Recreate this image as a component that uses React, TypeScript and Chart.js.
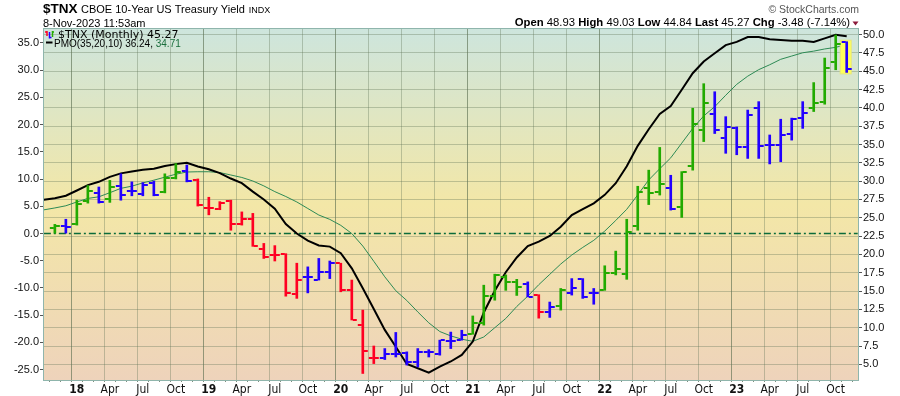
import React, { useEffect, useRef } from "react";
import { Chart, registerables } from "chart.js";

Chart.register(...registerables);

// ---------- DATA ----------
const months = [
  "2017-10", "2017-11", "2017-12",
  "2018-01", "2018-02", "2018-03", "2018-04", "2018-05", "2018-06", "2018-07", "2018-08", "2018-09", "2018-10", "2018-11", "2018-12",
  "2019-01", "2019-02", "2019-03", "2019-04", "2019-05", "2019-06", "2019-07", "2019-08", "2019-09", "2019-10", "2019-11", "2019-12",
  "2020-01", "2020-02", "2020-03", "2020-04", "2020-05", "2020-06", "2020-07", "2020-08", "2020-09", "2020-10", "2020-11", "2020-12",
  "2021-01", "2021-02", "2021-03", "2021-04", "2021-05", "2021-06", "2021-07", "2021-08", "2021-09", "2021-10", "2021-11", "2021-12",
  "2022-01", "2022-02", "2022-03", "2022-04", "2022-05", "2022-06", "2022-07", "2022-08", "2022-09", "2022-10", "2022-11", "2022-12",
  "2023-01", "2023-02", "2023-03", "2023-04", "2023-05", "2023-06", "2023-07", "2023-08", "2023-09", "2023-10", "2023-11",
];

const opens: (number | null)[] = [
  null, 23.6, 23.9,
  24.2, 27.3, 28.4, 27.5, 29.3, 28.6, 28.2, 29.7, 28.5, 30.4, 31.4, 30.2,
  26.3, 26.2, 27.3, 24.2, 24.8, 20.8, 19.9, 20.0, 14.6, 16.9, 16.5, 17.6,
  18.8, 15.2, 10.4, 5.9, 5.9, 6.4, 6.5, 5.3, 6.7, 6.35, 8.15, 8.3,
  9.2, 10.65, 14.3, 16.9, 16.25, 16.0, 14.4, 12.2, 13.0, 14.8, 16.6, 14.7,
  15.2, 17.4, 17.3, 23.9, 29.0, 28.55, 29.1, 26.5, 32.1, 37.0, 39.2, 35.9,
  37.2, 34.7, 39.95, 34.9, 34.9, 36.4, 38.6, 39.95, 40.85, 46.3, 48.93,
];
const highs: (number | null)[] = [
  null, 24.1, 24.8,
  27.4, 29.4, 29.2, 30.1, 31.0, 29.9, 29.8, 30.0, 31.0, 32.4, 32.2, 30.3,
  27.8, 27.2, 27.4, 25.8, 25.6, 21.5, 21.2, 20.1, 18.8, 18.3, 19.45, 19.1,
  18.8, 16.5, 12.4, 7.5, 7.15, 9.35, 6.7, 7.15, 7.0, 8.3, 9.4, 9.65,
  11.6, 15.8, 17.3, 17.2, 16.6, 16.25, 14.5, 13.5, 15.35, 16.7, 16.7, 15.35,
  18.45, 20.45, 24.8, 29.3, 31.5, 34.6, 30.8, 31.3, 39.95, 43.3, 42.2, 38.8,
  37.4, 39.7, 40.85, 36.3, 38.45, 38.6, 40.85, 43.45, 46.8, 49.95, 49.03,
];
const lows: (number | null)[] = [
  null, 22.9, 22.9,
  24.0, 27.0, 27.0, 27.1, 27.4, 28.0, 28.0, 28.0, 28.4, 30.3, 29.9, 26.6,
  25.4, 26.1, 23.3, 24.0, 21.1, 19.45, 19.1, 14.3, 14.0, 14.75, 16.5, 16.7,
  14.9, 11.05, 3.75, 5.1, 5.65, 6.0, 4.9, 4.65, 6.0, 6.25, 7.15, 8.3,
  9.1, 10.35, 13.75, 15.1, 14.4, 14.2, 11.3, 11.4, 12.4, 14.45, 14.0, 13.2,
  15.1, 17.2, 16.6, 23.3, 26.8, 28.1, 26.05, 25.05, 31.5, 35.4, 36.5, 33.8,
  33.6, 33.1, 33.1, 32.35, 32.65, 35.6, 37.2, 39.5, 40.5, 45.2, 44.84,
];
const closes: (number | null)[] = [
  null, 23.9, 23.8,
  26.9, 28.7, 27.2, 29.2, 28.1, 28.7, 29.5, 28.1, 30.4, 31.3, 30.0, 26.7,
  26.3, 26.95, 24.1, 24.8, 21.2, 19.7, 19.9, 14.8, 16.5, 16.9, 17.6, 18.8,
  15.1, 11.1, 6.8, 5.9, 6.4, 6.4, 5.3, 6.7, 6.7, 8.3, 8.15, 9.0,
  10.65, 14.3, 17.2, 16.25, 15.5, 14.2, 12.2, 12.85, 15.1, 15.35, 14.2, 14.7,
  17.5, 18.0, 23.0, 28.55, 28.35, 29.6, 26.15, 31.2, 37.8, 40.6, 37.0, 37.4,
  34.7, 39.0, 34.8, 34.9, 36.3, 38.45, 39.3, 40.7, 45.5, 48.75, 45.27,
];
// g = green, b = blue, r = red
const barColors = [
  "", "g", "b",
  "g", "g", "b", "g", "b", "b", "b", "b", "g", "g", "b", "r",
  "r", "r", "r", "r", "r", "r", "r", "r", "r", "b", "b", "b",
  "r", "r", "r", "r", "b", "b", "b", "b", "b", "b", "b", "b",
  "g", "g", "g", "g", "g", "b", "r", "b", "g", "b", "b", "b",
  "g", "g", "g", "g", "g", "g", "b", "g", "g", "g", "b", "b",
  "b", "b", "b", "b", "b", "b", "b", "g", "g", "g", "b",
];
const pmo = [
  6.2, 6.5, 6.95,
  7.9, 8.9, 9.5, 10.4, 11.05, 11.4, 11.7, 11.9, 12.4, 12.75, 13.0, 12.3,
  11.8, 11.1, 10.1, 9.25, 7.7, 6.25, 4.55, 1.75, 0.0, -1.3, -2.2, -2.4,
  -3.6, -6.4, -10.05, -13.85, -17.7, -20.8, -23.95, -24.75, -25.55, -24.45, -23.5, -22.3,
  -19.85, -14.5, -10.5, -7.1, -4.4, -2.3, -1.5, -0.45, 1.25, 3.4, 4.5, 5.55,
  7.1, 9.25, 12.35, 16.1, 19.15, 21.95, 23.4, 26.4, 29.45, 31.6, 33.1, 34.6,
  35.2, 36.1, 36.1, 35.7, 35.55, 35.4, 35.4, 35.2, 35.85, 36.5, 36.24,
];
const pmoSignal = [
  4.35, 4.7, 5.1,
  5.8, 6.45, 6.75, 7.5, 8.3, 8.7, 9.3, 9.8, 10.35, 10.9, 11.3, 11.35,
  11.35, 11.2, 10.75, 10.3, 9.65, 8.75, 7.7, 6.8, 5.8, 4.6, 3.4, 2.6,
  1.5, 0.0, -2.3, -5.1, -7.95, -10.5, -12.3, -14.4, -16.4, -18.0, -18.8, -19.4,
  -19.8, -19.0, -17.3, -15.6, -13.4, -11.5, -9.4, -7.5, -5.6, -3.95, -2.55, -1.25,
  0.45, 2.4, 4.45, 7.1, 9.85, 11.9, 13.9, 16.6, 19.3, 21.6, 23.3, 25.4,
  27.4, 28.9, 30.1, 31.0, 32.0, 32.6, 33.2, 33.5, 33.9, 34.2, 34.71,
];
const leftTicks = [
  -25, -22.5, -20, -17.5, -15, -12.5, -10, -7.5, -5, -2.5, 0, 2.5, 5, 7.5, 10, 12.5,
  15, 17.5, 20, 22.5, 25, 27.5, 30, 32.5, 35,
];
const rightTicks = [
  5, 7.5, 10, 12.5, 15, 17.5, 20, 22.5, 25, 27.5, 30, 32.5, 35, 37.5, 40, 42.5, 45, 47.5, 50,
];
const monthNames: Record<string, string> = { "04": "Apr", "07": "Jul", "10": "Oct" };

// ---------- STYLE ----------
const BAR_COLORS: Record<string, string> = { g: "#22aa00", b: "#2200ff", r: "#ff0022" };
const SANS = '"Liberation Sans", Arial, sans-serif';
const NARROW = '"Liberation Sans Narrow", "DejaVu Sans Condensed", "Liberation Sans", sans-serif';
const LAST = months.length - 1;

function monthLabel(i: number): string {
  const m = months[i];
  if (!m) return "";
  const [yy, mm] = m.split("-");
  if (mm === "01") return yy.slice(2);
  return monthNames[mm] || "";
}
function isYear(i: number) {
  return /^\d/.test(monthLabel(i));
}

const bgPlugin = {
  id: "bg",
  beforeDraw(chart: any) {
    const { ctx, chartArea: a } = chart;
    ctx.save();
    ctx.fillStyle = "#ffffff";
    ctx.fillRect(0, 0, chart.width, chart.height);
    const g = ctx.createLinearGradient(0, a.top, 0, a.bottom);
    g.addColorStop(0, "#cde5dd");
    g.addColorStop(0.5, "#f3e7a7");
    g.addColorStop(1, "#eed3bb");
    ctx.fillStyle = g;
    ctx.fillRect(a.left, a.top, a.right - a.left, a.bottom - a.top);
    ctx.restore();
  },
};

const ohlcPlugin = {
  id: "ohlc",
  beforeDatasetDraw(chart: any, args: any) {
    const ds = chart.data.datasets[args.index];
    if (ds.label !== "TNX") return;
    const meta = args.meta;
    const k = meta.data.length - 1;
    const el = meta.data[k];
    const i = ds.data[k].x;
    const y = chart.scales.yPrice;
    const top = y.getPixelForValue(highs[i] as number);
    const bot = y.getPixelForValue(lows[i] as number);
    const ctx = chart.ctx;
    ctx.save();
    ctx.fillStyle = "#ffff5a";
    ctx.strokeStyle = "#e6e67a";
    ctx.lineWidth = 1;
    ctx.fillRect(el.x - 6.5, top - 1.5, 11, bot - top + 3);
    ctx.strokeRect(el.x - 6.5, top - 1.5, 11, bot - top + 3);
    ctx.restore();
  },
  afterDatasetDraw(chart: any, args: any) {
    const ds = chart.data.datasets[args.index];
    if (ds.label !== "TNX") return;
    const y = chart.scales.yPrice;
    const ctx = chart.ctx;
    ctx.save();
    ctx.lineWidth = 2;
    args.meta.data.forEach((el: any, k: number) => {
      const i = ds.data[k].x;
      if (opens[i] == null) return;
      ctx.strokeStyle = BAR_COLORS[barColors[i]];
      const yo = Math.round(y.getPixelForValue(opens[i] as number));
      const yc = Math.round(y.getPixelForValue(closes[i] as number));
      ctx.beginPath();
      ctx.moveTo(el.x - 5, yo);
      ctx.lineTo(el.x - 1, yo);
      ctx.moveTo(el.x + 1, yc);
      ctx.lineTo(el.x + 5, yc);
      ctx.stroke();
    });
    ctx.restore();
  },
};

const framePlugin = {
  id: "frame",
  afterDraw(chart: any) {
    const { ctx, chartArea: a } = chart;
    ctx.save();
    ctx.strokeStyle = "#8fb5ac";
    ctx.lineWidth = 1;
    ctx.strokeRect(a.left + 0.5, a.top + 0.5, a.right - a.left - 1, a.bottom - a.top);

    // header
    ctx.textBaseline = "alphabetic";
    ctx.textAlign = "left";
    ctx.fillStyle = "#000";
    ctx.font = `bold 13.5px ${SANS}`;
    ctx.fillText("$TNX", 43, 13);
    const w1 = ctx.measureText("$TNX").width;
    ctx.font = `11px ${SANS}`;
    const t2 = "CBOE 10-Year US Treasury Yield";
    ctx.fillText(t2, 43 + w1 + 3.5, 13);
    const w2 = ctx.measureText(t2).width;
    ctx.font = `9px ${SANS}`;
    ctx.fillText("INDX", 43 + w1 + 3.5 + w2 + 4, 13);
    ctx.font = `11px ${SANS}`;
    ctx.fillText("8-Nov-2023 11:53am", 43, 26.5);

    ctx.fillStyle = "#555";
    ctx.font = `10.5px ${SANS}`;
    ctx.textAlign = "right";
    ctx.fillText("\u00A9 StockCharts.com", 859, 12.5);

    // OHLC summary
    const o = opens[LAST] as number, h = highs[LAST] as number, l = lows[LAST] as number, c = closes[LAST] as number;
    const prev = closes[LAST - 1] as number;
    const chg = c - prev;
    const pct = (chg / prev) * 100;
    const segs: [string, boolean][] = [
      ["Open", true], [` ${o.toFixed(2)} `, false],
      ["High", true], [` ${h.toFixed(2)} `, false],
      ["Low", true], [` ${l.toFixed(2)} `, false],
      ["Last", true], [` ${c.toFixed(2)} `, false],
      ["Chg", true], [` ${chg.toFixed(2)} (${pct.toFixed(2)}%)`, false],
    ];
    ctx.textAlign = "left";
    const fs = "11.3px";
    let total = 0;
    segs.forEach(([s, b]) => {
      ctx.font = `${b ? "bold " : ""}${fs} ${SANS}`;
      total += ctx.measureText(s).width;
    });
    let x = 850 - total;
    ctx.fillStyle = "#000";
    segs.forEach(([s, b]) => {
      ctx.font = `${b ? "bold " : ""}${fs} ${SANS}`;
      ctx.fillText(s, x, 26);
      x += ctx.measureText(s).width;
    });
    ctx.fillStyle = "#8b1a3a";
    ctx.beginPath();
    ctx.moveTo(852.5, 21.5);
    ctx.lineTo(858.5, 21.5);
    ctx.lineTo(855.5, 25.5);
    ctx.closePath();
    ctx.fill();

    // legend
    ctx.lineWidth = 1.5;
    ctx.strokeStyle = BAR_COLORS.r;
    ctx.beginPath(); ctx.moveTo(47, 31); ctx.lineTo(47, 36); ctx.moveTo(45, 32); ctx.lineTo(47, 32); ctx.stroke();
    ctx.strokeStyle = BAR_COLORS.b;
    ctx.beginPath(); ctx.moveTo(49.5, 32); ctx.lineTo(49.5, 38.5); ctx.moveTo(49.5, 37.5); ctx.lineTo(51.5, 37.5); ctx.stroke();
    ctx.strokeStyle = BAR_COLORS.g;
    ctx.beginPath(); ctx.moveTo(52.5, 31); ctx.lineTo(52.5, 37); ctx.moveTo(52.5, 32); ctx.lineTo(54, 32); ctx.stroke();

    ctx.fillStyle = "#000";
    ctx.font = '11px "DejaVu Sans", Verdana, sans-serif';
    ctx.fillText(`$TNX (Monthly) ${c.toFixed(2)}`, 58, 38);
    ctx.lineWidth = 2;
    ctx.strokeStyle = "#000";
    ctx.beginPath(); ctx.moveTo(46, 42.5); ctx.lineTo(52.5, 42.5); ctx.stroke();
    ctx.font = `10px ${SANS}`;
    const p1 = `PMO(35,20,10) ${pmo[LAST].toFixed(2)}, `;
    ctx.fillText(p1, 54, 46.5);
    const pw = ctx.measureText(p1).width;
    ctx.fillStyle = "#1a6e3c";
    ctx.fillText(pmoSignal[LAST].toFixed(2), 54 + pw, 46.5);
    ctx.restore();
  },
};

export default function App() {
  const ref = useRef<HTMLCanvasElement>(null);
  useEffect(() => {
    document.body.style.margin = "0";
    const canvas = ref.current as HTMLCanvasElement;
    const barData = months
      .map((_, i) => ({ x: i, y: lows[i] == null ? null : [lows[i], highs[i]] }))
      .filter((d) => d.y != null);
    const chart = new Chart(canvas, {
      type: "bar",
      data: {
        datasets: [
          {
            type: "bar",
            label: "TNX",
            data: barData as any,
            xAxisID: "x",
            yAxisID: "yPrice",
            backgroundColor: barData.map((d) => BAR_COLORS[barColors[d.x]]),
            borderWidth: 0,
            barThickness: 2,
            grouped: false,
            order: 0,
          } as any,
          {
            type: "line",
            label: "PMO",
            data: pmo.map((v, i) => ({ x: i, y: v })),
            xAxisID: "x",
            yAxisID: "yPmo",
            borderColor: "#000000",
            borderWidth: 2,
            pointRadius: 0,
            tension: 0,
            order: 1,
          } as any,
          {
            type: "line",
            label: "Signal",
            data: pmoSignal.map((v, i) => ({ x: i, y: v })),
            xAxisID: "x",
            yAxisID: "yPmo",
            borderColor: "#2d8a55",
            borderWidth: 1,
            pointRadius: 0,
            tension: 0,
            order: 2,
          } as any,
          {
            type: "line",
            label: "Zero",
            data: [{ x: 0, y: 0 }, { x: months.length, y: 0 }],
            xAxisID: "x",
            yAxisID: "yPmo",
            borderColor: "#0b6b3a",
            borderWidth: 1.5,
            borderDash: [7, 3, 2, 3],
            pointRadius: 0,
            order: 3,
          } as any,
        ],
      },
      options: {
        responsive: false,
        animation: false,
        devicePixelRatio: 1,
        events: [],
        layout: { padding: { top: 28, left: 0, right: 0, bottom: 0 } },
        plugins: { legend: { display: false }, tooltip: { enabled: false } },
        scales: {
          x: {
            type: "linear",
            position: "bottom",
            min: 0.43,
            max: 73.61,
            afterBuildTicks: (s: any) => {
              s.ticks = months
                .map((_, i) => ({ value: i }))
                .filter((t) => t.value >= s.min && t.value <= s.max);
            },
            afterFit: (s: any) => {
              s.height = 16;
            },
            border: { display: false },
            grid: {
              drawOnChartArea: true,
              drawTicks: true,
              tickLength: 2,
              color: (c: any) => {
                const v = c.tick ? c.tick.value : -1;
                if (!monthLabel(v)) return "rgba(0,0,0,0)";
                return isYear(v) ? "rgba(85,105,75,0.6)" : "rgba(95,115,85,0.35)";
              },
              tickColor: "#7f8f80",
            },
            ticks: {
              autoSkip: false,
              maxRotation: 0,
              minRotation: 0,
              padding: 1,
              color: "#111",
              font: (c: any) => ({
                family: NARROW,
                size: 12,
                weight: c.tick && isYear(c.tick.value) ? "bold" : "normal",
              }),
              callback: (v: any) => monthLabel(Number(v)),
            },
          } as any,
          yPmo: {
            type: "linear",
            position: "left",
            min: -26.9,
            max: 37.75,
            afterBuildTicks: (s: any) => {
              s.ticks = leftTicks.map((v) => ({ value: v }));
            },
            afterFit: (s: any) => {
              s.width = 43;
            },
            border: { display: false },
            grid: { drawOnChartArea: false, drawTicks: true, tickLength: 3, tickColor: "#555" },
            ticks: {
              padding: 1,
              color: "#111",
              font: { family: SANS, size: 11 },
              callback: (v: any) => Number(v).toFixed(1),
            },
          } as any,
          yPrice: {
            type: "linear",
            position: "right",
            min: 2.86,
            max: 50.9,
            afterBuildTicks: (s: any) => {
              s.ticks = rightTicks.map((v) => ({ value: v }));
            },
            afterFit: (s: any) => {
              s.width = 41;
            },
            border: { display: false },
            grid: {
              drawOnChartArea: true,
              drawTicks: true,
              tickLength: 3,
              color: "rgba(95,115,85,0.35)",
              tickColor: "#555",
            },
            ticks: {
              padding: 1,
              color: "#111",
              font: { family: SANS, size: 11 },
              callback: (v: any) => Number(v).toFixed(1),
            },
          } as any,
        },
      },
      plugins: [bgPlugin, ohlcPlugin, framePlugin],
    } as any);
    return () => chart.destroy();
  }, []);
  return (
    <div style={{ width: 900, height: 396 }}>
      <canvas ref={ref} width={900} height={396} style={{ display: "block", width: 900, height: 396 }} />
    </div>
  );
}
